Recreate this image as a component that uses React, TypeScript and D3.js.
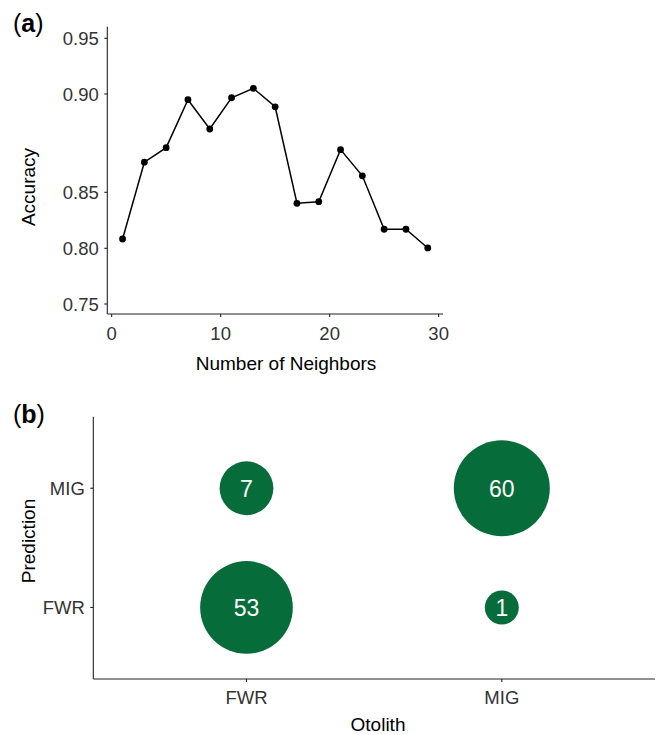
import React from "react";
import * as d3 from "d3";

// Panel (a): kNN accuracy
const neighbors = [1, 3, 5, 7, 9, 11, 13, 15, 17, 19, 21, 23, 25, 27, 29];
const accuracy = [0.8083, 0.8653, 0.8727, 0.8971, 0.8822, 0.8981, 0.9051, 0.8935, 0.8402, 0.8416, 0.8717, 0.8584, 0.817, 0.817, 0.8003];
const accTicks = [0.75, 0.8, 0.85, 0.9, 0.95];
const nTicks = [0, 10, 20, 30];

// Panel (b): confusion matrix
const otolith = ["FWR", "MIG"];
const prediction = ["FWR", "MIG"];
const cellOtolith = ["FWR", "FWR", "MIG", "MIG"];
const cellPrediction = ["MIG", "FWR", "MIG", "FWR"];
const cellCount = [7, 53, 60, 1];

const GREEN = "#066d3a";
const AXIS = "#222";
const TICKTXT = "#333";
const FONT = "'Liberation Sans', Arial, Helvetica, sans-serif";

export default function App() {
  const W = 660, H = 735;

  // ---- panel a ----
  const aLeft = 107.3, aRight = 443, aTop = 26.7, aBottom = 314;
  const x = d3.scaleLinear().domain([-0.4, 30.4]).range([aLeft, aRight]);
  // axis positions for accuracy ticks (as printed on the original axis)
  const y = d3.scaleLinear().domain(accTicks).range([304, 248.3, 192.3, 94, 38.3]);
  const line = d3.line<number>().x((_, i) => x(neighbors[i])).y((d) => y(d));

  // ---- panel b ----
  const bLeft = 93.3, bRight = 655, bTop = 416.7, bBottom = 679;
  const bx = d3.scalePoint<string>().domain(otolith).range([bLeft, bRight]).padding(0.6);
  const by = d3.scalePoint<string>().domain(prediction).range([bBottom, bTop]).padding(0.6);
  const r = d3.scalePow().exponent(0.32).domain([1, 60]).range([17, 48]);

  const tickFs = 18.5;
  const titleFs = 19;

  return (
    <svg width={W} height={H} style={{ display: "block", position: "absolute", left: 0, top: 0 }} fontFamily={FONT}>
      <rect width={W} height={H} fill="#fff" />
      {/* ===== Panel a ===== */}
      <text x={13} y={32} fontSize={25}>
        (<tspan fontWeight="bold">a</tspan>)
      </text>
      <line x1={aLeft} x2={aLeft} y1={aTop} y2={aBottom} stroke={AXIS} strokeWidth={1.1} />
      <line x1={aLeft} x2={aRight} y1={aBottom} y2={aBottom} stroke={AXIS} strokeWidth={1.1} />
      {accTicks.map((t) => (
        <g key={t}>
          <line x1={aLeft - 3} x2={aLeft} y1={y(t)} y2={y(t)} stroke={AXIS} strokeWidth={1.1} />
          <text x={aLeft - 8.5} y={y(t)} dy="0.36em" textAnchor="end" fontSize={tickFs} fill={TICKTXT}>
            {d3.format(".2f")(t)}
          </text>
        </g>
      ))}
      {nTicks.map((t) => (
        <g key={t}>
          <line x1={x(t)} x2={x(t)} y1={aBottom} y2={aBottom + 3} stroke={AXIS} strokeWidth={1.1} />
          <text x={x(t)} y={339.5} textAnchor="middle" fontSize={tickFs} fill={TICKTXT}>
            {t}
          </text>
        </g>
      ))}
      <text x={286} y={370} textAnchor="middle" fontSize={titleFs} fill="#000">
        Number of Neighbors
      </text>
      <text transform={`translate(34.5,187) rotate(-90)`} textAnchor="middle" fontSize={titleFs} fill="#000">
        Accuracy
      </text>
      <path d={line(accuracy) || ""} fill="none" stroke="#000" strokeWidth={1.5} />
      {accuracy.map((v, i) => (
        <circle key={i} cx={x(neighbors[i])} cy={y(v)} r={3.4} fill="#000" />
      ))}

      {/* ===== Panel b ===== */}
      <text x={13} y={423} fontSize={25}>
        (<tspan fontWeight="bold">b</tspan>)
      </text>
      <line x1={bLeft} x2={bLeft} y1={bTop} y2={bBottom} stroke={AXIS} strokeWidth={1.1} />
      <line x1={bLeft} x2={bRight} y1={bBottom} y2={bBottom} stroke={AXIS} strokeWidth={1.1} />
      {prediction.map((p) => (
        <g key={p}>
          <line x1={bLeft - 3} x2={bLeft} y1={by(p)!} y2={by(p)!} stroke={AXIS} strokeWidth={1.1} />
          <text x={bLeft - 8.5} y={by(p)!} dy="0.36em" textAnchor="end" fontSize={tickFs} fill={TICKTXT}>
            {p}
          </text>
        </g>
      ))}
      {otolith.map((o) => (
        <g key={o}>
          <line x1={bx(o)!} x2={bx(o)!} y1={bBottom} y2={bBottom + 3} stroke={AXIS} strokeWidth={1.1} />
          <text x={bx(o)!} y={704} textAnchor="middle" fontSize={tickFs} fill={TICKTXT}>
            {o}
          </text>
        </g>
      ))}
      <text x={378} y={731} textAnchor="middle" fontSize={titleFs} fill="#000">
        Otolith
      </text>
      <text transform={`translate(34.5,541) rotate(-90)`} textAnchor="middle" fontSize={titleFs} fill="#000">
        Prediction
      </text>
      {cellCount.map((c, i) => (
        <g key={i}>
          <circle cx={bx(cellOtolith[i])!} cy={by(cellPrediction[i])!} r={r(c)} fill={GREEN} />
          <text
            x={bx(cellOtolith[i])!}
            y={by(cellPrediction[i])!}
            dy="0.36em"
            textAnchor="middle"
            fontSize={23}
            fill="#fff"
          >
            {c}
          </text>
        </g>
      ))}
    </svg>
  );
}
